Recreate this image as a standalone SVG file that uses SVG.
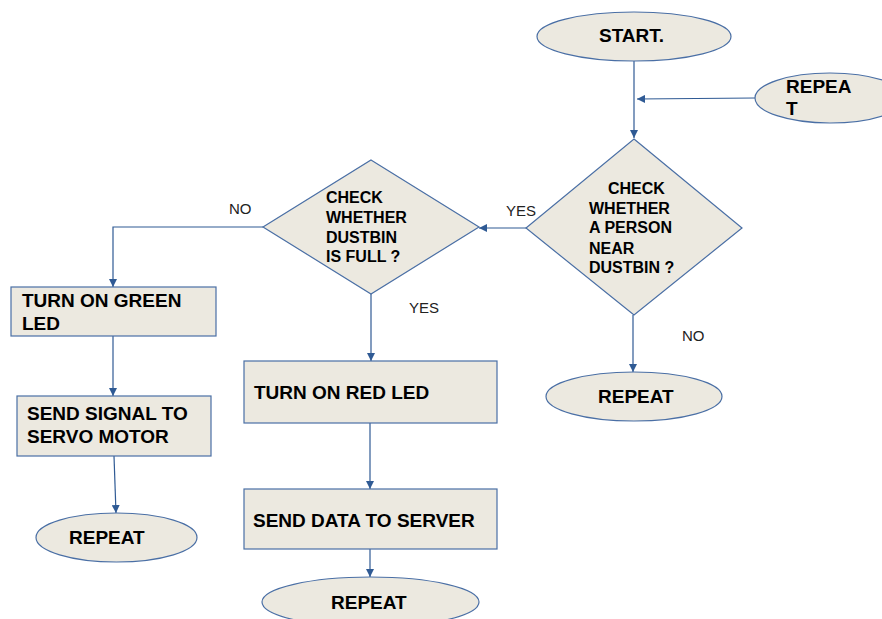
<svg xmlns="http://www.w3.org/2000/svg" width="882" height="619" viewBox="0 0 882 619">
  <style>
    .shape { fill: #ECE9E0; stroke: #4A6FA5; stroke-width: 1.2; }
    .t { font-family: "Liberation Sans", Arial, sans-serif; font-weight: bold; font-size: 19px; fill: #000; }
    .d { font-family: "Liberation Sans", Arial, sans-serif; font-weight: bold; font-size: 16px; fill: #000; }
    .lbl { font-family: "Liberation Sans", Arial, sans-serif; font-size: 15px; fill: #222; }
    .conn { fill: none; stroke: #2F5A94; stroke-width: 1.2; }
  </style>
  <defs>
    <marker id="arrow" viewBox="0 0 10 10" refX="10" refY="5" markerWidth="8" markerHeight="8" markerUnits="userSpaceOnUse" orient="auto">
      <path d="M0,0 L10,5 L0,10 z" fill="#2F5A94"/>
    </marker>
  </defs>
  <rect width="882" height="619" fill="#FFFFFF"/>

  <!-- connectors -->
  <g id="connectors">
    <path class="conn" d="M634,61 L634,138" marker-end="url(#arrow)"/>
    <path class="conn" d="M755,98 L637,99" marker-end="url(#arrow)"/>
    <path class="conn" d="M526,228 L479,228" marker-end="url(#arrow)"/>
    <path class="conn" d="M263,227 L113,227 L113,287" marker-end="url(#arrow)"/>
    <path class="conn" d="M113,336 L113,396" marker-end="url(#arrow)"/>
    <path class="conn" d="M114,456 L116,513" marker-end="url(#arrow)"/>
    <path class="conn" d="M371,294 L371,361" marker-end="url(#arrow)"/>
    <path class="conn" d="M370,423 L370,489" marker-end="url(#arrow)"/>
    <path class="conn" d="M370,549 L370,577" marker-end="url(#arrow)"/>
    <path class="conn" d="M633,315 L633,372" marker-end="url(#arrow)"/>
    <text class="lbl" x="506" y="216">YES</text>
    <text class="lbl" x="229" y="214">NO</text>
    <text class="lbl" x="409" y="313">YES</text>
    <text class="lbl" x="682" y="341">NO</text>
  </g>

  <g id="start">
    <ellipse class="shape" cx="634" cy="36.5" rx="97" ry="24.5"/>
    <text class="t" x="599" y="42">START.</text>
  </g>

  <g id="repeat-top">
    <ellipse class="shape" cx="830" cy="98" rx="75" ry="25"/>
    <text class="t" x="786" y="93">REPEA</text>
    <text class="t" x="786" y="115">T</text>
  </g>

  <g id="check-person">
    <polygon class="shape" points="634,139 742,228 634,315 526,228"/>
    <text class="d" x="608" y="194">CHECK</text>
    <text class="d" x="589" y="214">WHETHER</text>
    <text class="d" x="589" y="233">A PERSON</text>
    <text class="d" x="589" y="254">NEAR</text>
    <text class="d" x="589" y="273">DUSTBIN ?</text>
  </g>

  <g id="check-full">
    <polygon class="shape" points="371,160 479,227 371,294 263,227"/>
    <text class="d" x="326" y="203">CHECK</text>
    <text class="d" x="326" y="223">WHETHER</text>
    <text class="d" x="326" y="243">DUSTBIN</text>
    <text class="d" x="326" y="262">IS FULL ?</text>
  </g>

  <g id="repeat-right">
    <ellipse class="shape" cx="634" cy="396.5" rx="88" ry="24.5"/>
    <text class="t" x="598" y="403">REPEAT</text>
  </g>

  <g id="green-led">
    <rect class="shape" x="11" y="287" width="205" height="49"/>
    <text class="t" x="22" y="307">TURN ON GREEN</text>
    <text class="t" x="22" y="330">LED</text>
  </g>

  <g id="servo">
    <rect class="shape" x="17" y="396" width="194" height="60"/>
    <text class="t" x="27" y="420">SEND SIGNAL TO</text>
    <text class="t" x="27" y="443">SERVO MOTOR</text>
  </g>

  <g id="repeat-left">
    <ellipse class="shape" cx="116.5" cy="537.5" rx="80.5" ry="24.5"/>
    <text class="t" x="69" y="544">REPEAT</text>
  </g>

  <g id="red-led">
    <rect class="shape" x="244" y="361" width="253" height="62"/>
    <text class="t" x="254" y="399">TURN ON RED LED</text>
  </g>

  <g id="send-data">
    <rect class="shape" x="244" y="489" width="253" height="60"/>
    <text class="t" x="253" y="527">SEND DATA TO SERVER</text>
  </g>

  <g id="repeat-bottom">
    <ellipse class="shape" cx="370.5" cy="602" rx="108.5" ry="25"/>
    <text class="t" x="331" y="609">REPEAT</text>
  </g>
</svg>
